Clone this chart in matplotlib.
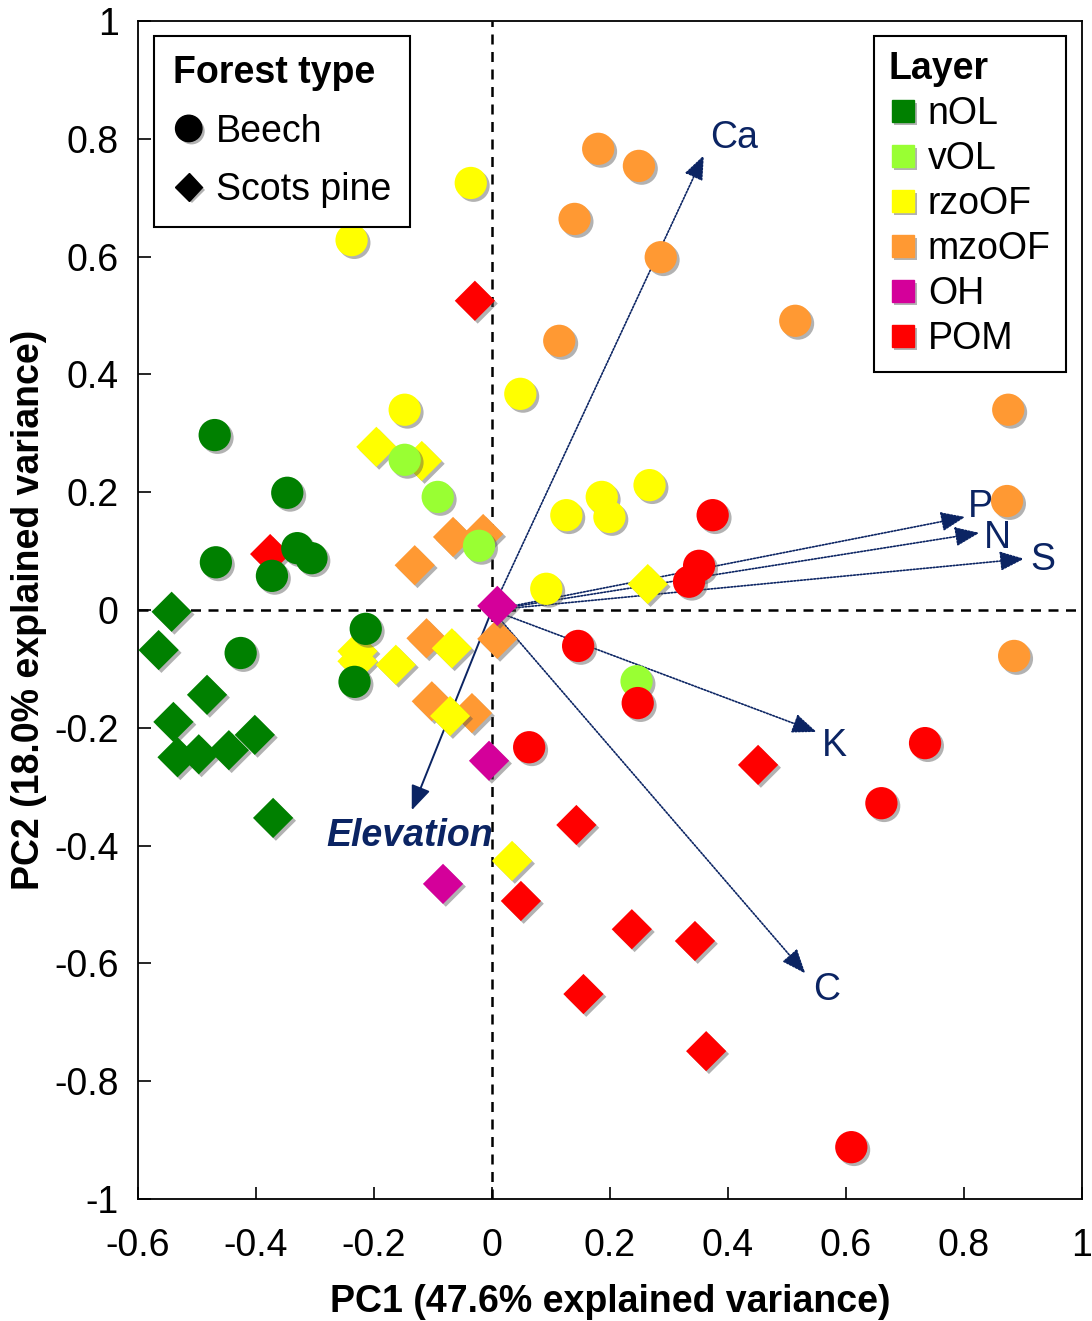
import matplotlib
matplotlib.use("Agg")
import matplotlib.pyplot as plt
from matplotlib.lines import Line2D
import matplotlib.patheffects as pe

plt.rcParams['font.family'] = ['Liberation Sans', 'DejaVu Sans']

# ---------------- data ----------------
layers = ['nOL', 'vOL', 'rzoOF', 'mzoOF', 'OH', 'POM']
layer_colors = ['#008000', '#99FF33', '#FFFF00', '#FF9933', '#D4009A', '#FF0000']

nOL_beech_x = [-0.470, -0.347, -0.468, -0.306, -0.330, -0.373, -0.426, -0.214, -0.233]
nOL_beech_y = [0.297, 0.199, 0.081, 0.088, 0.105, 0.058, -0.073, -0.032, -0.122]
nOL_pine_x = [-0.543, -0.565, -0.483, -0.540, -0.497, -0.533, -0.446, -0.402, -0.371]
nOL_pine_y = [-0.003, -0.068, -0.144, -0.190, -0.245, -0.250, -0.238, -0.212, -0.353]

vOL_beech_x = [-0.148, -0.092, -0.022, 0.245]
vOL_beech_y = [0.255, 0.192, 0.109, -0.121]

rzoOF_beech_x = [-0.238, -0.036, -0.148, 0.048, 0.126, 0.199, 0.186, 0.267, 0.092]
rzoOF_beech_y = [0.628, 0.725, 0.340, 0.367, 0.161, 0.158, 0.192, 0.212, 0.036]
rzoOF_pine_x = [-0.196, -0.119, -0.228, -0.228, -0.163, -0.068, -0.071, 0.264, 0.034]
rzoOF_pine_y = [0.277, 0.253, -0.087, -0.070, -0.093, -0.065, -0.180, 0.044, -0.426]

mzoOF_beech_x = [0.180, 0.249, 0.140, 0.286, 0.114, 0.514, 0.875, 0.873, 0.885]
mzoOF_beech_y = [0.783, 0.754, 0.664, 0.599, 0.457, 0.491, 0.340, 0.185, -0.078]
mzoOF_pine_x = [-0.015, -0.066, -0.131, -0.111, 0.009, -0.034, -0.102]
mzoOF_pine_y = [0.129, 0.124, 0.076, -0.048, -0.049, -0.175, -0.155]

OH_pine_x = [0.009, -0.005, -0.083]
OH_pine_y = [0.007, -0.256, -0.465]

POM_beech_x = [0.374, 0.351, 0.334, 0.146, 0.247, 0.063, 0.734, 0.660, 0.609]
POM_beech_y = [0.161, 0.075, 0.048, -0.061, -0.158, -0.233, -0.226, -0.328, -0.912]
POM_pine_x = [-0.029, -0.376, 0.451, 0.143, 0.049, 0.237, 0.344, 0.155, 0.363]
POM_pine_y = [0.525, 0.095, -0.263, -0.365, -0.494, -0.542, -0.562, -0.652, -0.749]

vectors = ['Ca', 'P', 'N', 'S', 'K', 'C', 'Elevation']
vec_x = [0.359, 0.802, 0.826, 0.902, 0.550, 0.531, -0.136]
vec_y = [0.772, 0.158, 0.131, 0.087, -0.207, -0.617, -0.340]

xticks = [-0.6, -0.4, -0.2, 0, 0.2, 0.4, 0.6, 0.8, 1]
xticklabels = ['-0.6', '-0.4', '-0.2', '0', '0.2', '0.4', '0.6', '0.8', '1']
yticks = [-1, -0.8, -0.6, -0.4, -0.2, 0, 0.2, 0.4, 0.6, 0.8, 1]
yticklabels = ['-1', '-0.8', '-0.6', '-0.4', '-0.2', '0', '0.2', '0.4', '0.6', '0.8', '1']

# ---------------- figure ----------------
FS = 27
W, H = 1092, 1321
fig = plt.figure(figsize=(W / 100, H / 100), dpi=100)
ax = fig.add_axes([138 / W, 1 - 1199 / H, 944 / W, 1178 / H])
ax.set_xlim(-0.6, 1.0)
ax.set_ylim(-1.0, 1.0)

navy = '#0B2463'
ax.axhline(0, color='black', lw=1.8, ls=(0, (4, 3)), zorder=1)
ax.axvline(0, color='black', lw=1.8, ls=(0, (4, 3)), zorder=1)

# arrows (loadings)
for name, vx, vy in zip(vectors, vec_x, vec_y):
    solid = name == 'Elevation'
    ax.annotate('', xy=(vx, vy), xytext=(0, 0),
                arrowprops=dict(arrowstyle='-|>,head_length=0.75,head_width=0.3',
                                color=navy, lw=1.4 if solid else 1.2,
                                ls='-' if solid else (0, (1, 1)),
                                mutation_scale=20, shrinkA=0, shrinkB=0),
                zorder=2)

# label offsets in pixels (dx, dy) relative to arrow tip
label_offsets = {'Ca': (6, 17, 'left'), 'P': (3, 10, 'left'), 'N': (5, -5, 'left'),
                 'S': (6, -1, 'left'), 'K': (5, -14, 'left'), 'C': (8, -17, 'left'),
                 'Elevation': (-2, -26, 'center')}
for name, vx, vy in zip(vectors, vec_x, vec_y):
    dx, dy, ha = label_offsets[name]
    kw = dict(fontweight='bold', fontstyle='italic') if name == 'Elevation' else {}
    ax.annotate(name, xy=(vx, vy), xytext=(dx * 0.72, dy * 0.72), textcoords='offset points',
                ha=ha, va='center', color=navy, fontsize=FS, zorder=6, **kw)

shadow = [pe.SimplePatchShadow(offset=(2.0, -2.0), shadow_rgbFace='#555555', alpha=0.45),
          pe.Normal()]
s_circle = 540
s_diamond = 420

pine_sets = [
    (POM_pine_x, POM_pine_y, layer_colors[5]),
    (nOL_pine_x, nOL_pine_y, layer_colors[0]),
    (mzoOF_pine_x, mzoOF_pine_y, layer_colors[3]),
    (rzoOF_pine_x, rzoOF_pine_y, layer_colors[2]),
]
beech_sets = [
    (nOL_beech_x, nOL_beech_y, layer_colors[0]),
    (vOL_beech_x, vOL_beech_y, layer_colors[1]),
    (rzoOF_beech_x, rzoOF_beech_y, layer_colors[2]),
    (mzoOF_beech_x, mzoOF_beech_y, layer_colors[3]),
    (POM_beech_x, POM_beech_y, layer_colors[5]),
]
for xs, ys, c in pine_sets:
    sc = ax.scatter(xs, ys, s=s_diamond, marker='D', c=c, edgecolors='none', zorder=3)
    sc.set_path_effects(shadow)
for xs, ys, c in beech_sets:
    sc = ax.scatter(xs, ys, s=s_circle, marker='o', c=c, edgecolors='none', zorder=4)
    sc.set_path_effects(shadow)
sc = ax.scatter(OH_pine_x, OH_pine_y, s=s_diamond, marker='D', c=layer_colors[4],
                edgecolors='none', zorder=5)
sc.set_path_effects(shadow)

# axes styling
ax.set_xticks(xticks)
ax.set_xticklabels(xticklabels)
ax.set_yticks(yticks)
ax.set_yticklabels(yticklabels)
ax.tick_params(axis='both', direction='in', length=9, width=1.2, labelsize=FS,
               top=False, right=False)
ax.tick_params(axis='x', pad=21)
ax.tick_params(axis='y', pad=14)
for sp in ax.spines.values():
    sp.set_linewidth(1.3)

ax.set_xlabel('PC1 (47.6% explained variance)', fontsize=FS, fontweight='bold', labelpad=14)
ax.set_ylabel('PC2 (18.0% explained variance)', fontsize=FS, fontweight='bold', labelpad=5)

# legends
ft_handles = [Line2D([], [], marker='o', color='black', ls='none', markersize=19),
              Line2D([], [], marker='D', color='black', ls='none', markersize=14)]
for h in ft_handles:
    h.set_path_effects(shadow)
leg1 = ax.legend(ft_handles, ['Beech', 'Scots pine'], title='Forest type',
                 loc='upper left', bbox_to_anchor=(0.017, 0.987),
                 fontsize=FS, title_fontsize=FS, frameon=True, fancybox=False,
                 edgecolor='black', framealpha=1, borderpad=0.5,
                 labelspacing=0.6, handlelength=0.85, handletextpad=0.3,
                 borderaxespad=0)
leg1._legend_box.align = 'left'
leg1.get_title().set_fontweight('bold')
leg1.get_frame().set_linewidth(1.5)
leg1.set_zorder(10)
ax.add_artist(leg1)

layer_handles = []
for c in layer_colors:
    h = Line2D([], [], marker='s', color=c, ls='none', markersize=16)
    h.set_path_effects(shadow)
    layer_handles.append(h)
leg2 = ax.legend(layer_handles, layers, title='Layer',
                 loc='upper right', bbox_to_anchor=(0.983, 0.987),
                 fontsize=FS, title_fontsize=FS, frameon=True, fancybox=False,
                 edgecolor='black', framealpha=1, borderpad=0.4,
                 labelspacing=0.24, handlelength=0.75, handletextpad=0.3,
                 borderaxespad=0)
leg2._legend_box.align = 'left'
leg2.get_title().set_fontweight('bold')
leg2.get_frame().set_linewidth(1.5)
leg2.set_zorder(10)

fig.savefig('out.png', dpi=100)
